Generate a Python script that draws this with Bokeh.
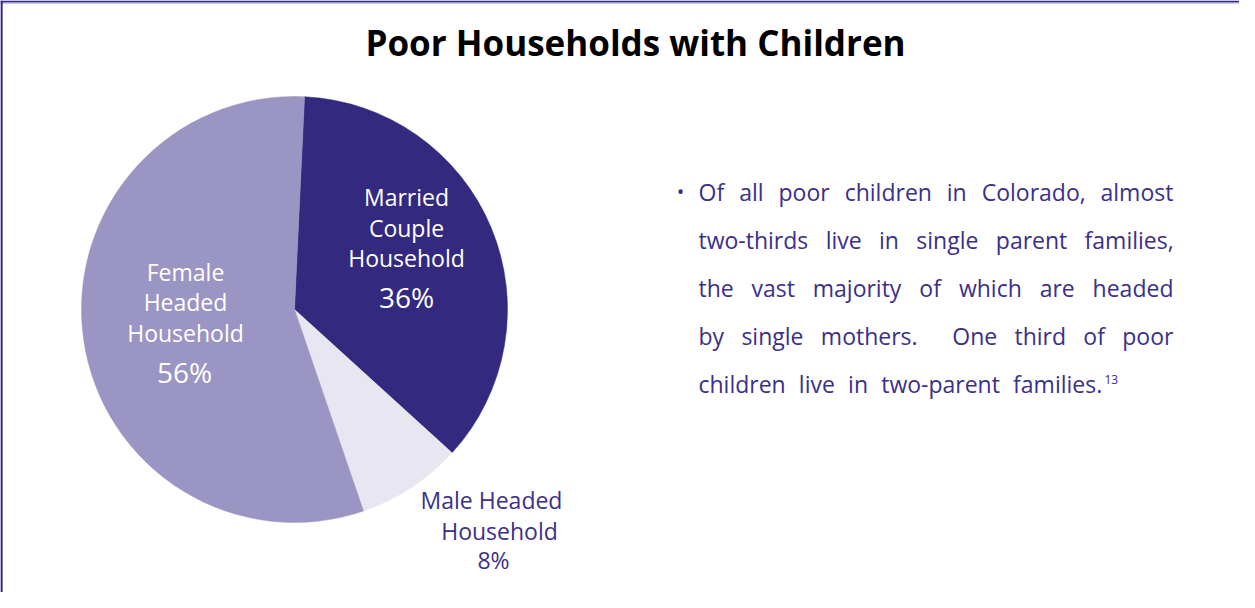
import math
from bokeh.plotting import figure
from bokeh.models import Range1d, Span
from bokeh.core.properties import value
from bokeh.embed import file_html
from bokeh.resources import INLINE

# ---------------- data ----------------
title = "Poor Households with Children"
categories = ["Married Couple Household", "Male Headed Household", "Female Headed Household"]
label_lines = [["Married", "Couple", "Household"], ["Male Headed", "Household"], ["Female", "Headed", "Household"]]
shares = [36, 8, 56]
colors = ["#332a80", "#e8e7f1", "#9b95c4"]
body_lines = [
    "Of all poor children in Colorado, almost",
    "two-thirds live in single parent families,",
    "the vast majority of which are headed",
    "by single mothers.  One third of poor",
    "children live in two-parent families.",
]
footnote = "13"

# ---------------- layout helpers (screen px -> data) ----------------
W, H = 1239, 592
def X(sx):
    return sx - 8
def Y(sy):
    return H - (sy - 8)
def TY(sy, size):
    # baseline correction for rendered text
    return Y(sy - 0.4 * size)

FONT = "Open Sans"
PURPLE_TEXT = "#3b3089"

# Open Sans Regular advance widths (units per em = 2048), used for justifying the paragraph
ADV = {" ": 532, "a": 1139, "b": 1255, "c": 975, "d": 1255, "e": 1149, "f": 694, "g": 1122,
       "h": 1257, "i": 518, "j": 518, "k": 1075, "l": 518, "m": 1905, "n": 1257, "o": 1237,
       "p": 1255, "r": 836, "s": 977, "t": 723, "u": 1257, "v": 1026, "w": 1593, "y": 1028,
       "O": 1599, "C": 1296, ".": 545, ",": 500, "-": 659}
def text_width(s, size):
    return sum(ADV.get(ch, 1100) for ch in s) / 2048.0 * size

p = figure(width=W, height=H, output_backend="svg", toolbar_location=None,
           x_range=Range1d(0, W), y_range=Range1d(0, H), min_border=0,
           x_axis_location=None, y_axis_location=None)
p.grid.visible = False
p.outline_line_color = None
p.background_fill_color = "white"
p.border_fill_color = "white"

# frame lines (top + left)
p.add_layout(Span(location=Y(9), dimension="width", line_color="#2e2a80", line_width=2))
p.add_layout(Span(location=Y(10.5), dimension="width", line_color="#9d97d3", line_width=1))
p.add_layout(Span(location=X(9), dimension="height", line_color="#2e2a80", line_width=2.3))

# ---------------- pie ----------------
cx, cy, r = X(302), Y(317), 213
offset = 87.3  # degrees, start just right of 12 o'clock
total = sum(shares)
starts, ends = [], []
acc = 0.0
for v in shares:
    a0 = offset - acc / total * 360.0
    acc += v
    a1 = offset - acc / total * 360.0
    starts.append(math.radians(a0))
    ends.append(math.radians(a1))

p.wedge(x=[cx] * 3, y=[cy] * 3, radius=r, start_angle=starts, end_angle=ends,
        direction="clock", fill_color=colors, line_color=colors, line_width=0.5)

# ---------------- pie labels ----------------
LS, PS = 23, 28
LBL, PCT = f"{LS}px", f"{PS}px"
# married
p.text(x=[X(414)] * 3, y=[TY(214, LS), TY(245, LS), TY(275, LS)], text=label_lines[0], text_font=value(FONT),
       text_font_size=LBL, text_color="white", text_align="center", text_baseline="alphabetic")
p.text(x=[X(414)], y=[TY(316, PS)], text=[f"{shares[0]}%"], text_font=value(FONT), text_font_size=PCT,
       text_color="white", text_align="center", text_baseline="alphabetic")
# female
p.text(x=[X(193)] * 3, y=[TY(289, LS), TY(319, LS), TY(350, LS)], text=label_lines[2], text_font=value(FONT),
       text_font_size=LBL, text_color="white", text_align="center", text_baseline="alphabetic")
p.text(x=[X(192)], y=[TY(391, PS)], text=[f"{shares[2]}%"], text_font=value(FONT), text_font_size=PCT,
       text_color="white", text_align="center", text_baseline="alphabetic")
# male (outside)
p.text(x=[X(499), X(507)], y=[TY(517, LS), TY(548, LS)], text=label_lines[1], text_font=value(FONT),
       text_font_size=LBL, text_color=PURPLE_TEXT, text_align="center", text_baseline="alphabetic")
p.text(x=[X(501)], y=[TY(577, LS)], text=[f"{shares[1]}%"], text_font=value(FONT), text_font_size=LBL,
       text_color=PURPLE_TEXT, text_align="center", text_baseline="alphabetic")

# ---------------- title ----------------
TS = 35
p.text(x=[X(643)], y=[TY(64, TS)], text=[title], text_font=value(FONT), text_font_size=f"{TS}px",
       text_font_style="bold", text_color="black", text_align="center", text_baseline="alphabetic")

# ---------------- body text (justified) ----------------
BS = 23
left = 706
line_ends = [1181, 1181, 1181, 1181, 1110]
baselines = [209, 257, 305, 353, 401]
p.text(x=[X(688)], y=[TY(207, 20)], text=["\u2022"], text_font=value(FONT), text_font_size="20px",
       text_color=PURPLE_TEXT, text_align="center", text_baseline="alphabetic")
wx, wy, wt = [], [], []
for line, end, base in zip(body_lines, line_ends, baselines):
    tokens = line.split(" ")
    words = [t for t in tokens if t]
    # gap weights: a double space counts as two gaps
    weights = []
    k = 0
    for t in tokens[1:]:
        k += 1
        if t:
            weights.append(k)
            k = 0
    widths = [text_width(w, BS) for w in words]
    unit = (end - left - sum(widths)) / sum(weights)
    xpos = left
    for i, (w, wd) in enumerate(zip(words, widths)):
        wx.append(X(xpos))
        wy.append(TY(base, BS))
        wt.append(w)
        if i < len(weights):
            xpos += wd + unit * weights[i]
p.text(x=wx, y=wy, text=wt, text_font=value(FONT), text_font_size=f"{BS}px", text_color=PURPLE_TEXT,
       text_align="left", text_baseline="alphabetic")
p.text(x=[X(line_ends[4] + 2)], y=[TY(392, 12)], text=[footnote], text_font=value(FONT), text_font_size="12px",
       text_color=PURPLE_TEXT, text_align="left", text_baseline="alphabetic")

open("out.html", "w").write(file_html(p, INLINE))
